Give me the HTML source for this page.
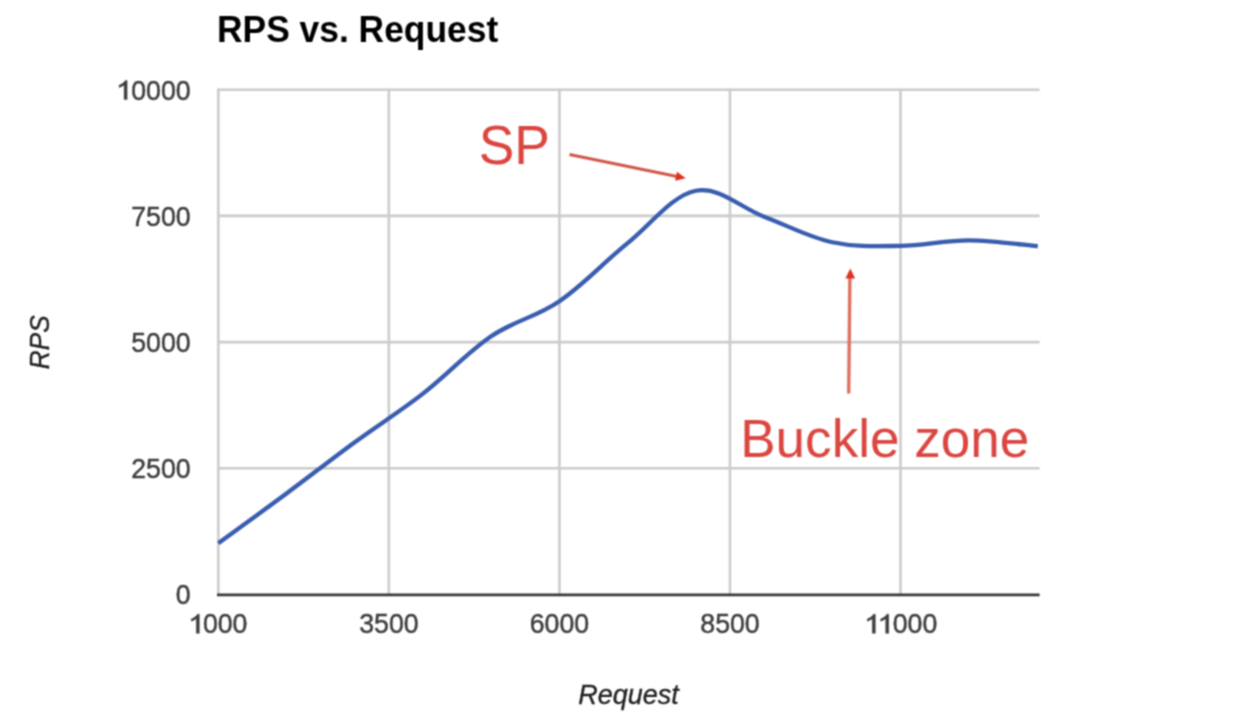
<!DOCTYPE html>
<html><head><meta charset="utf-8"><style>
html,body{margin:0;padding:0;background:#fff;width:1254px;height:720px;overflow:hidden;}
svg{display:block;}
text{font-family:"Liberation Sans",sans-serif;}
.ax{font-size:28.4px;fill:#3d3d3d;stroke:#3d3d3d;stroke-width:0.45px;}
.red{font-size:55px;fill:#db4640;}
</style></head><body>
<svg width="1254" height="720" viewBox="0 0 1254 720">
<defs><filter id="bl" x="0" y="0" width="100%" height="100%" color-interpolation-filters="sRGB"><feConvolveMatrix order="3" kernelMatrix="1 2 1 2 4 2 1 2 1" divisor="16" edgeMode="duplicate"/></filter></defs>
<g filter="url(#bl)">
<rect width="1254" height="720" fill="#fff"/>
<text transform="translate(217,42.2) scale(1,1.05)" style="font-size:35.4px;font-weight:bold;fill:#000">RPS vs. Request</text>
<line x1="218.30" y1="88.60" x2="218.30" y2="594.50" stroke="#cccccc" stroke-width="2.6"/><line x1="388.86" y1="88.60" x2="388.86" y2="594.50" stroke="#cccccc" stroke-width="2.6"/><line x1="559.42" y1="88.60" x2="559.42" y2="594.50" stroke="#cccccc" stroke-width="2.6"/><line x1="729.98" y1="88.60" x2="729.98" y2="594.50" stroke="#cccccc" stroke-width="2.6"/><line x1="900.54" y1="88.60" x2="900.54" y2="594.50" stroke="#cccccc" stroke-width="2.6"/><line x1="217.15" y1="89.70" x2="1039.6" y2="89.70" stroke="#cccccc" stroke-width="2.6"/><line x1="217.15" y1="215.90" x2="1039.6" y2="215.90" stroke="#cccccc" stroke-width="2.6"/><line x1="217.15" y1="342.10" x2="1039.6" y2="342.10" stroke="#cccccc" stroke-width="2.6"/><line x1="217.15" y1="468.30" x2="1039.6" y2="468.30" stroke="#cccccc" stroke-width="2.6"/>
<line x1="217.0" y1="594.9" x2="1039.6" y2="594.9" stroke="#383838" stroke-width="2.8"/>
<path transform="translate(117.60,99.60)" d="M9.50,0 L6.53,0 L6.53,-14.71 Q5.87,-14.10 4.31,-13.30 Q2.74,-12.49 1.50,-12.09 L1.50,-14.35 Q3.74,-15.27 5.41,-16.59 Q7.09,-17.90 7.78,-19.14 L9.50,-19.14 Z" fill="#3d3d3d" stroke="#3d3d3d" stroke-width="0.45"/><text transform="translate(131.2,99.6) scale(0.94,1)" class="ax">0000</text><text transform="translate(190.6,225.8) scale(0.94,1)" text-anchor="end" class="ax">7500</text><text transform="translate(190.6,352.0) scale(0.94,1)" text-anchor="end" class="ax">5000</text><text transform="translate(190.6,478.2) scale(0.94,1)" text-anchor="end" class="ax">2500</text><text transform="translate(190.6,604.4) scale(0.94,1)" text-anchor="end" class="ax">0</text>
<path transform="translate(189.80,633.30)" d="M9.50,0 L6.53,0 L6.53,-14.71 Q5.87,-14.10 4.31,-13.30 Q2.74,-12.49 1.50,-12.09 L1.50,-14.35 Q3.74,-15.27 5.41,-16.59 Q7.09,-17.90 7.78,-19.14 L9.50,-19.14 Z" fill="#3d3d3d" stroke="#3d3d3d" stroke-width="0.45"/><text transform="translate(202.9,633.3) scale(0.94,1)" class="ax">000</text><text transform="translate(388.9,633.3) scale(0.94,1)" text-anchor="middle" class="ax">3500</text><text transform="translate(559.4,633.3) scale(0.94,1)" text-anchor="middle" class="ax">6000</text><text transform="translate(730.0,633.3) scale(0.94,1)" text-anchor="middle" class="ax">8500</text><path transform="translate(865.80,633.30)" d="M9.50,0 L6.53,0 L6.53,-14.71 Q5.87,-14.10 4.31,-13.30 Q2.74,-12.49 1.50,-12.09 L1.50,-14.35 Q3.74,-15.27 5.41,-16.59 Q7.09,-17.90 7.78,-19.14 L9.50,-19.14 Z" fill="#3d3d3d" stroke="#3d3d3d" stroke-width="0.45"/><path transform="translate(879.20,633.30)" d="M9.50,0 L6.53,0 L6.53,-14.71 Q5.87,-14.10 4.31,-13.30 Q2.74,-12.49 1.50,-12.09 L1.50,-14.35 Q3.74,-15.27 5.41,-16.59 Q7.09,-17.90 7.78,-19.14 L9.50,-19.14 Z" fill="#3d3d3d" stroke="#3d3d3d" stroke-width="0.45"/><text transform="translate(892.7,633.3) scale(0.94,1)" class="ax">000</text>
<text transform="translate(49.2,342.3) rotate(-90) scale(0.95,1)" text-anchor="middle" style="font-size:27.6px;font-style:italic;fill:#222;stroke:#222;stroke-width:0.35px">RPS</text>
<text transform="translate(628.4,704) scale(0.985,1)" text-anchor="middle" style="font-size:27.4px;font-style:italic;fill:#222;stroke:#222;stroke-width:0.35px">Request</text>
<path d="M218.30,543.36 C230.11,534.73 262.90,510.99 286.52,493.49 C310.14,475.99 331.13,459.54 354.75,442.25 C378.37,424.97 399.35,411.98 422.97,393.64 C446.59,375.30 467.58,352.30 491.20,336.29 C514.82,320.29 535.80,317.30 559.42,301.16 C583.04,285.02 604.02,262.17 627.64,243.06 C651.26,223.95 672.25,195.33 695.87,190.76 C719.49,186.19 740.47,207.74 764.09,216.66 C787.71,225.57 808.70,237.19 832.32,242.25 C855.94,247.31 876.92,246.22 900.54,245.89 C924.16,245.55 945.14,240.28 968.76,240.33 C992.38,240.38 1025.18,245.17 1036.99,246.19 l0.8,0.08" fill="none" stroke="#3a5daf" stroke-width="4.3" stroke-linejoin="round" stroke-linecap="butt"/>
<text transform="translate(478.7,163.6) scale(0.97,1)" class="red">SP</text>
<text transform="translate(740.2,456.8) scale(0.994,1)" class="red" style="font-size:53.4px">Buckle zone</text>
<line x1="569.5" y1="154.6" x2="676.98" y2="176.50" stroke="#d05848" stroke-width="3.1"/>
<path d="M685.80,178.30 L675.08,180.81 L676.92,171.80 Z" fill="#e0321f"/>
<line x1="848.7" y1="393.6" x2="849.9" y2="277" stroke="#e0705f" stroke-width="3.4"/>
<path d="M850.3,268.4 L845.4,278.4 L855.2,278.4 Z" fill="#e0321f"/>
</g>
</svg>
</body></html>
